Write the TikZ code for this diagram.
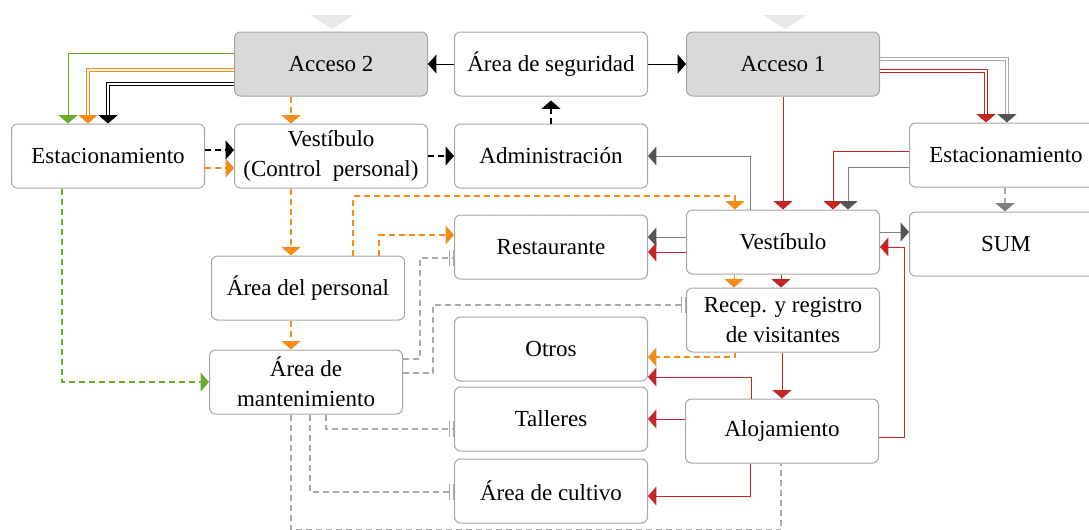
\documentclass[tikz,border=0pt]{standalone}
\usepackage{fontspec}
\setmainfont{Liberation Serif}
\usetikzlibrary{arrows.meta}

\definecolor{cajagris}{RGB}{217,217,217}
\definecolor{borde}{RGB}{165,165,165}
\definecolor{verde}{RGB}{104,172,40}
\definecolor{naranja}{RGB}{245,140,25}
\definecolor{rojo}{RGB}{196,38,38}
\definecolor{grisosc}{RGB}{85,85,85}
\definecolor{grismed}{RGB}{128,128,128}
\definecolor{grisclaro}{RGB}{170,170,170}
\definecolor{marca}{RGB}{232,232,232}

\tikzset{
  punta/.tip={Triangle[width=9.5pt,length=4.2pt]},
  tope/.tip={Bar[width=8pt,sep=1.5pt]Bar[width=8pt]},
  caja/.style={draw=borde,line width=0.5pt,rounded corners=3pt,
    minimum width=96.5pt,minimum height=32pt,inner sep=2pt,align=center,
    font=\fontsize{11.5}{15}\selectfont},
  acceso/.style={caja,fill=cajagris},
  linea/.style={line width=0.5pt},
  doble/.style={line width=0.4pt,double=white,double distance=0.8pt},
  trazos/.style={line width=0.6pt,dash pattern=on 3pt off 2pt}
}

\begin{document}
\begin{tikzpicture}[x=0.5pt,y=-0.5pt]
  \useasboundingbox (0,0) rectangle (1089,530);
  \clip (0,0) rectangle (1089,530);

  % entradas
  \fill[marca] (310,15) -- (354,15) -- (332,29) -- cycle;
  \fill[marca] (763,15) -- (807,15) -- (785,29) -- cycle;

  % fila superior
  \node[acceso] (acc2) at (331,64) {Acceso 2};
  \node[caja] (seg) at (551,64) {Área de seguridad};
  \node[acceso] (acc1) at (783,64) {Acceso 1};

  \node[caja] (estL) at (108,156) {Estacionamiento};
  \node[caja] (vestCP) at (331,156) {Vestíbulo\\(Control\ \ personal)};
  \node[caja] (adm) at (551,156) {Administración};
  \node[caja] (estR) at (1006,155) {Estacionamiento};

  \node[caja] (vest) at (783,242) {Vestíbulo};
  \node[caja] (sum) at (1006,244) {SUM};
  \node[caja] (rest) at (551,247) {Restaurante};
  \node[caja] (pers) at (308,288) {Área del personal};
  \node[caja] (recep) at (783,320) {Recep. y registro\\de visitantes};
  \node[caja] (otros) at (551,349) {Otros};
  \node[caja] (mant) at (306,382) {Área de\\mantenimiento};
  \node[caja] (tall) at (551,419) {Talleres};
  \node[caja] (aloj) at (782,431) {Alojamiento};
  \node[caja] (cult) at (551,491) {Área de cultivo};

  % acceso 2
  \draw[linea,verde,-punta] (acc2.west |- 0,53) -| (estL.north -| 68,0);
  \draw[doble,naranja,-punta] (acc2.west |- 0,70) -| (estL.north -| 88,0);
  \draw[doble,black,-punta] (acc2.west |- 0,84) -| (estL.north -| 108,0);
  \draw[trazos,naranja,-punta] (acc2.south -| 291,0) -- (vestCP.north -| 291,0);
  \draw[linea,-punta] (seg.west) -- (acc2.east);
  \draw[linea,-punta] (seg.east) -- (acc1.west);
  \draw[trazos,black,-punta,shorten >=2pt] (adm.north) -- (seg.south);

  % estacionamiento y personal
  \draw[trazos,black,-punta] (estL.east |- 0,150) -- (vestCP.west |- 0,150);
  \draw[trazos,naranja,-punta] (estL.east |- 0,168) -- (vestCP.west |- 0,168);
  \draw[trazos,verde,-punta] (estL.south -| 62,0) |- (mant.west);
  \draw[trazos,black,-punta] (vestCP.east) -- (adm.west);
  \draw[trazos,naranja,-punta] (vestCP.south -| 291,0) -- (pers.north -| 291,0);
  \draw[trazos,naranja,-punta] (pers.south -| 291,0) -- (mant.north -| 291,0);
  \draw[trazos,naranja,-punta] (pers.north -| 353,0) |- (735,196) -- (vest.north -| 735,0);
  \draw[trazos,naranja,-punta] (pers.north -| 379,0) |- (rest.west |- 0,235);

  % mantenimiento
  \draw[trazos,grisclaro,-tope] (mant.east |- 0,359) -| (420,258) -- (rest.west |- 0,258);
  \draw[trazos,grisclaro,-tope] (mant.east |- 0,373) -| (433,305) -- (recep.west |- 0,305);
  \draw[trazos,grisclaro,-tope] (mant.south -| 326,0) |- (tall.west |- 0,429);
  \draw[trazos,grisclaro,-tope] (mant.south -| 310,0) |- (cult.west |- 0,492);
  \draw[trazos,grisclaro] (mant.south -| 291,0) |- (781,530) -- (aloj.south -| 781,0);

  % acceso 1
  \draw[linea,rojo,-punta] (acc1.south) -- (vest.north);
  \draw[doble,rojo,-punta] (acc1.east |- 0,71) -| (estR.north -| 986,0);
  \draw[doble,grisclaro,-{punta[color=grisosc]}] (acc1.east |- 0,59) -| (estR.north -| 1007,0);
  \draw[linea,rojo,-punta] (estR.west |- 0,151) -| (vest.north -| 833,0);
  \draw[linea,grismed,-{punta[color=grisosc]}] (estR.west |- 0,167) -| (vest.north -| 848,0);
  \draw[trazos,grisclaro,-{punta[color=grismed]}] (estR.south -| 1005,0) -- (sum.north -| 1005,0);

  % vestibulo
  \draw[linea,grismed,-{punta[color=grisosc]}] (vest.north -| 750,0) |- (adm.east);
  \draw[linea,grismed,-{punta[color=grisosc]}] (vest.west |- 0,237) -- (rest.east |- 0,237);
  \draw[linea,rojo,-punta] (vest.west |- 0,252) -- (rest.east |- 0,252);
  \draw[linea,grismed,-{punta[color=grisosc]}] (vest.east |- 0,232) -- (sum.west |- 0,232);
  \draw[linea,naranja,-punta] (vest.south -| 734,0) -- (recep.north -| 734,0);
  \draw[linea,rojo,-punta] (vest.south -| 781,0) -- (recep.north -| 781,0);

  % recepcion y alojamiento
  \draw[trazos,naranja,-punta] (recep.south -| 735,0) |- (otros.east |- 0,357);
  \draw[linea,rojo,-punta] (recep.south -| 782,0) -- (aloj.north -| 782,0);
  \draw[linea,rojo,-punta] (aloj.east |- 0,437) -| (904,247) -- (vest.east |- 0,247);
  \draw[linea,rojo,-punta] (aloj.north -| 751,0) |- (otros.east |- 0,377);
  \draw[linea,rojo,-punta] (aloj.west |- 0,419) -- (tall.east |- 0,419);
  \draw[linea,rojo,-punta] (aloj.south -| 750,0) |- (cult.east |- 0,496);
\end{tikzpicture}
\end{document}
